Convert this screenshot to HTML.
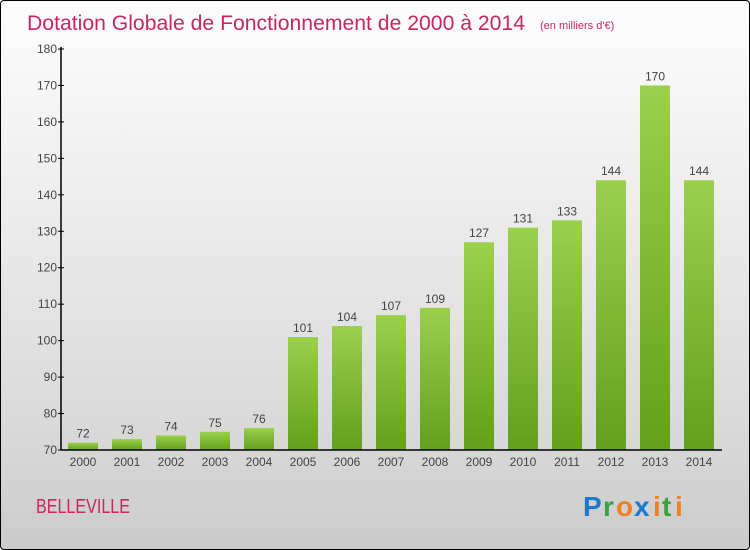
<!DOCTYPE html>
<html><head><meta charset="utf-8"><style>
body{margin:0;width:750px;height:550px;overflow:hidden;font-family:"Liberation Sans",sans-serif}
#wrap{position:absolute;left:0;top:0;width:748px;height:548px;border:1px solid #000;border-radius:4px;background:linear-gradient(#fdfdfd,#f0f0f0 30%,#d8d8d8 80%,#cbcbcb)}
</style></head><body>
<div id="wrap">
<svg width="750" height="550" style="position:absolute;left:-1px;top:-1px">
<defs><linearGradient id="g" x1="0" y1="0" x2="0" y2="1"><stop offset="0" stop-color="#9bd04c"/><stop offset="1" stop-color="#65a01a"/></linearGradient></defs>
<text x="27" y="30" font-size="21" fill="#c8285a" textLength="498" lengthAdjust="spacingAndGlyphs">Dotation Globale de Fonctionnement de 2000 à 2014</text>
<text x="540" y="29" font-size="11" fill="#c8285a">(en milliers d'€)</text>
<g id="chart"></g>
<text x="36" y="513" font-size="20" fill="#c8285a" textLength="94" lengthAdjust="spacingAndGlyphs">BELLEVILLE</text>
<g font-size="28" font-weight="bold" font-family="Liberation Sans,sans-serif">
<text x="583" y="516" fill="#1a7ad0">P</text><text x="603" y="516" fill="#3aa040">r</text><text x="616" y="516" fill="#f08020">o</text><text x="634" y="516" fill="#1a7ad0">x</text><text x="653" y="516" fill="#f08020">i</text><text x="662" y="516" fill="#3aa040">t</text><text x="675" y="516" fill="#f08020">i</text>
</g>
</svg>
</div>
<script>
const years=["2000","2001","2002","2003","2004","2005","2006","2007","2008","2009","2010","2011","2012","2013","2014"];
const values=[72,73,74,75,76,101,104,107,109,127,131,133,144,170,144];
const yTicks=[70,80,90,100,110,120,130,140,150,160,170,180];
const NS="http://www.w3.org/2000/svg";
const g=document.getElementById('chart');
const x0=61,step=44,y0=450,yMin=70,yMax=180,yTop=49;
const yS=v=>y0-(v-yMin)/(yMax-yMin)*(y0-yTop);
const xS=i=>x0+22+i*step;
function mk(t,a){const e=document.createElementNS(NS,t);for(const k in a)e.setAttribute(k,a[k]);g.appendChild(e);return e;}
values.forEach((v,i)=>{
 const r=mk('rect',{x:xS(i)-15,y:yS(v),width:30,height:y0-yS(v),fill:'url(#g)'});
 
 
 const t=mk('text',{x:xS(i),y:yS(v)-5,'text-anchor':'middle','font-size':12,fill:'#444'});
 t.textContent=v;
 
 
 const l=mk('text',{x:xS(i),y:466,'text-anchor':'middle','font-size':12,fill:'#444'});
 l.textContent=years[i];
 
 
});
yTicks.forEach(v=>{
 const tk=mk('line',{x1:x0-3,x2:x0+3,y1:yS(v),y2:yS(v),stroke:'#000'});
 
 
 const t=mk('text',{x:x0-4,y:yS(v)+4,'text-anchor':'end','font-size':12,fill:'#444'});
 t.textContent=v;
 
 
});
const ya=mk('line',{x1:x0,x2:x0,y1:yTop-2,y2:y0,stroke:'#000','stroke-width':1.5});


const xa=mk('line',{x1:x0,x2:722,y1:y0,y2:y0,stroke:'#000','stroke-width':1.5});


</script>
</body></html>
